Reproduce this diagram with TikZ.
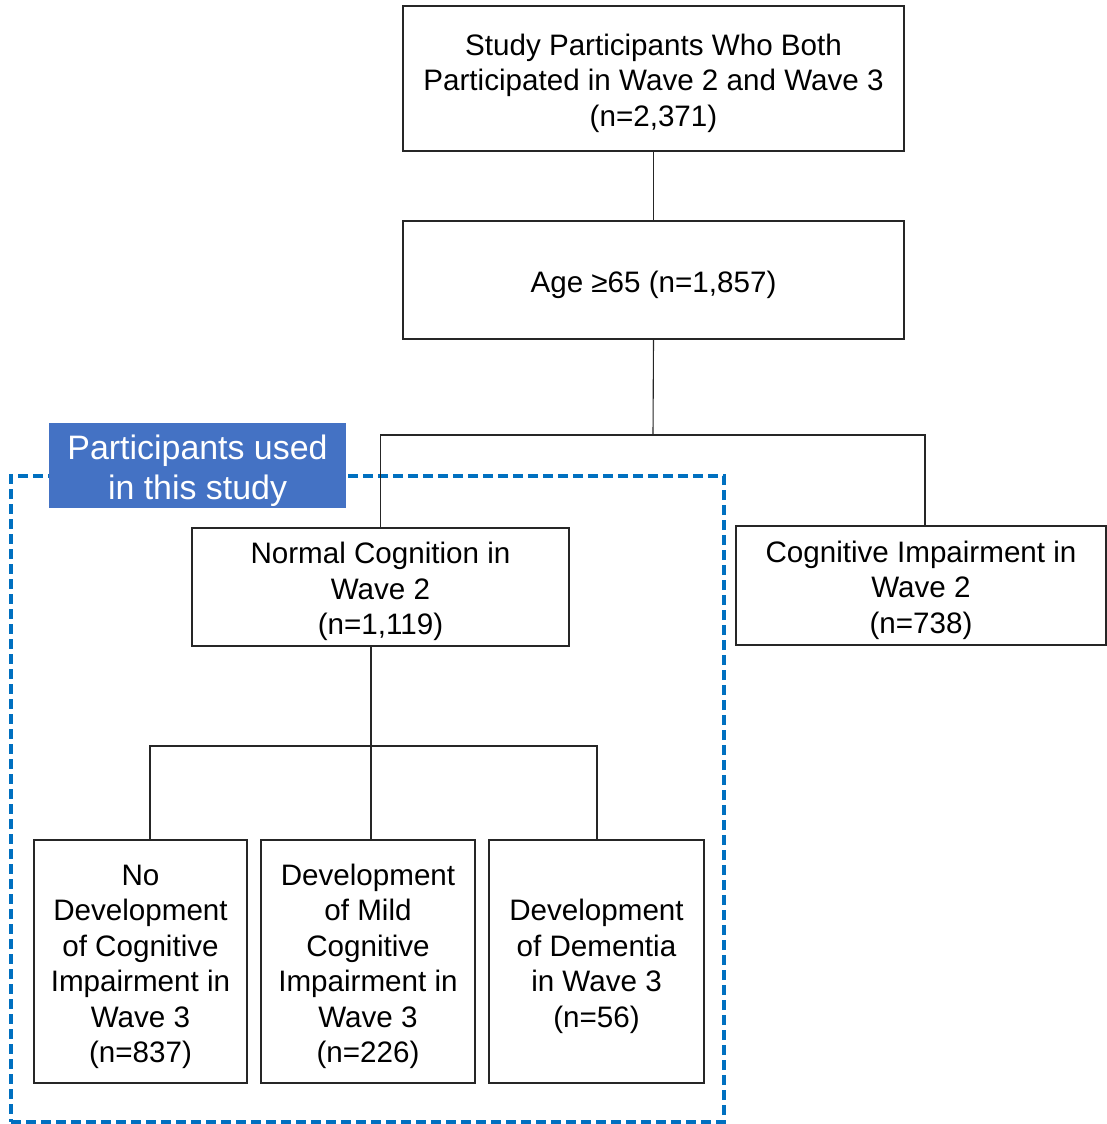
\documentclass[tikz,border=0pt]{standalone}
\usepackage{fontspec}
\setmainfont{Liberation Sans}
\definecolor{dashblue}{HTML}{0070C0}
\definecolor{labelblue}{HTML}{4472C4}
\newcommand\liftbox{\rule{0pt}{31pt}}
\newcommand\lifttag{\rule{0pt}{35pt}}
\begin{document}
\begin{tikzpicture}[x=1pt,y=-1pt,
  box/.style={draw=black!85, line width=1.1pt, inner sep=0pt, align=center,
    font=\fontsize{29.6}{35.5}\selectfont},
  conn/.style={draw=black!85, line width=1.1pt},
  frame/.style={draw=dashblue, line width=4pt, dash pattern=on 10pt off 5pt, inner sep=0pt},
  tag/.style={fill=labelblue, text=white, inner sep=0pt, align=center,
    font=\fontsize{33.9}{40}\selectfont}]
\useasboundingbox (0,0) rectangle (1107,1124);

% dashed study frame
\node[frame, minimum width=713pt, minimum height=646pt] (studyframe) at (367.5,799) {};

% boxes
\node[box, minimum width=501pt, minimum height=145pt] (top) at (653.5,78.5)
  {\liftbox Study Participants Who Both\\Participated in Wave 2 and Wave 3\\(n=2,371)};
\node[box, minimum width=501pt, minimum height=118pt] (age) at (653.5,280)
  {\liftbox Age ≥65 (n=1,857)};
\node[box, minimum width=377pt, minimum height=118pt] (norm) at (380.5,587)
  {\liftbox Normal Cognition in\\Wave 2\\(n=1,119)};
\node[box, minimum width=370pt, minimum height=119pt] (ci) at (921,585.5)
  {\liftbox Cognitive Impairment in\\Wave 2\\(n=738)};
\node[box, minimum width=213pt, minimum height=243pt] (nA) at (140.5,961.5)
  {\liftbox No\\Development\\of Cognitive\\Impairment in\\Wave 3\\(n=837)};
\node[box, minimum width=214pt, minimum height=243pt] (nB) at (368,961.5)
  {\liftbox Development\\of Mild\\Cognitive\\Impairment in\\Wave 3\\(n=226)};
\node[box, minimum width=215pt, minimum height=243pt] (nC) at (596.5,961.5)
  {\liftbox Development\\of Dementia\\in Wave 3\\(n=56)};

% connectors
\coordinate (j1) at (653,435);
\coordinate (jR) at (925,435);
\draw[conn] (top.south) -- (age.north);
\draw[conn] (age.south) -- (j1);
\draw[conn] (norm.north) |- (jR) -- (jR |- ci.north);

\coordinate (j2) at (371,746);
\coordinate (jA) at (150,746);
\coordinate (jC) at (597,746);
\draw[conn] (norm.south -| j2) -- (j2);
\draw[conn] (jA |- nA.north) -- (jA) -- (jC) -- (jC |- nC.north);
\draw[conn] (j2) -- (j2 |- nB.north);

% label
\node[tag, minimum width=297pt, minimum height=85pt] (lbl) at (197.5,465.5)
  {\lifttag Participants used\\in this study};
\end{tikzpicture}
\end{document}
